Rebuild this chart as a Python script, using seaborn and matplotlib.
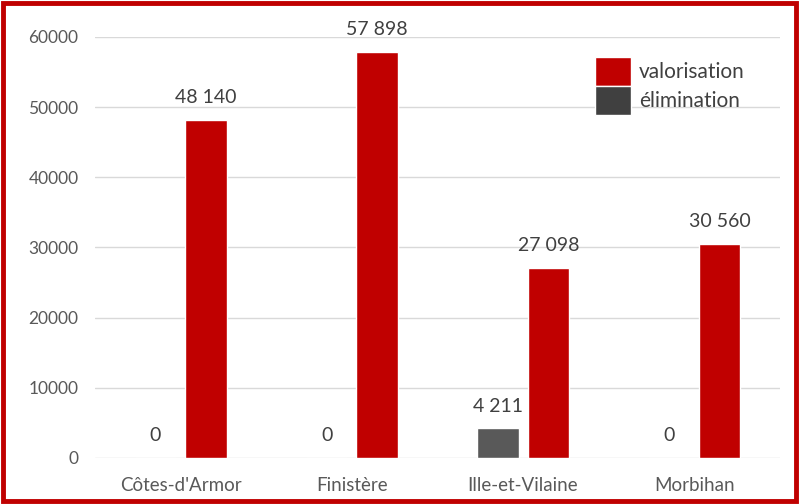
import pandas as pd
import numpy as np
import matplotlib.pyplot as plt
import seaborn as sns
from matplotlib.patches import Rectangle

departements = ["Côtes-d'Armor", "Finistère", "Ille-et-Vilaine", "Morbihan"]
elimination = [0, 0, 4211, 0]
valorisation = [48140, 57898, 27098, 30560]
yticks = [0, 10000, 20000, 30000, 40000, 50000, 60000]

df = pd.DataFrame({
    'departement': departements * 2,
    'type': ['élimination'] * 4 + ['valorisation'] * 4,
    'tonnes': elimination + valorisation,
})

sns.set_style("white")
plt.rcParams['font.family'] = ['Lato', 'DejaVu Sans']
text_col = '#595959'

fig = plt.figure(figsize=(7.99, 5.04), dpi=100)
ax = fig.add_axes([0.119, 0.0913, 0.857, 0.8353])

sns.barplot(data=df, x='departement', y='tonnes', hue='type',
            hue_order=['élimination', 'valorisation'],
            palette={'élimination': '#595959', 'valorisation': '#C00000'},
            saturation=1, width=0.59, gap=0.18, ax=ax)

ax.set_ylim(0, 60000)
ax.set_xlim(-0.5, 3.5)
ax.set_yticks(yticks)
ax.set_yticklabels([str(t) for t in yticks])
ax.yaxis.grid(True, color='#d9d9d9', linewidth=1)
ax.set_axisbelow(True)
for s in ax.spines.values():
    s.set_visible(False)
ax.tick_params(axis='both', length=0, labelsize=12.5, colors=text_col)
ax.tick_params(axis='x', pad=14, labelsize=13.5)
ax.tick_params(axis='y', pad=12)
ax.set_xlabel('')
ax.set_ylabel('')

# data labels with space as thousands separator
for cont in ax.containers:
    labels = [f"{v:,.0f}".replace(",", " ") for v in cont.datavalues]
    ax.bar_label(cont, labels=labels, padding=10, fontsize=14,
                 color='#404040', clip_on=False)

handles, labels = ax.get_legend_handles_labels()
leg = ax.legend(handles[::-1], labels[::-1], loc='upper left',
                bbox_to_anchor=(0.73, 0.952), frameon=False, fontsize=15,
                handlelength=1.75, handleheight=1.75, labelspacing=0,
                handletextpad=0.35, borderpad=0, borderaxespad=0)
for t in leg.get_texts():
    t.set_color('#404040')
leg.legend_handles[1].set_facecolor('#404040')

# red frame around the picture
fig.patches.append(Rectangle((0.004, 0.005), 0.992, 0.99, transform=fig.transFigure,
                             fill=False, edgecolor='#C00000', linewidth=3.5))

plt.savefig('out.png', dpi=100)
